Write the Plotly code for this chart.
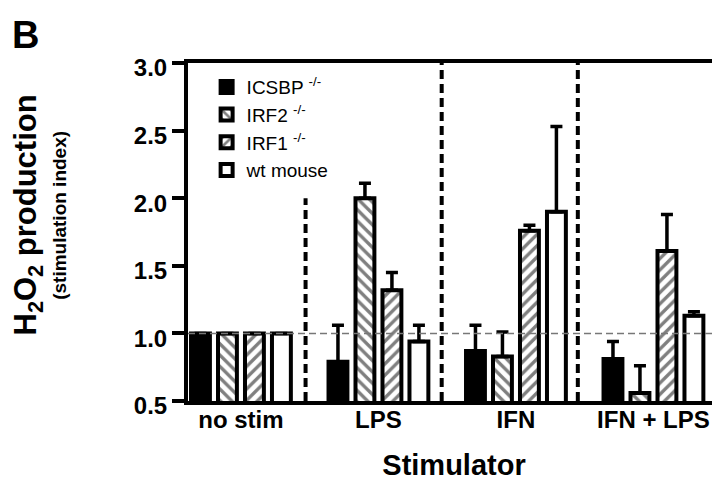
import plotly.graph_objects as go

categories = ["no stim", "LPS", "IFN", "IFN + LPS"]
cat_pos = [0, 1, 2, 3]

series_names = ["ICSBP <sup>-/-</sup>", "IRF2 <sup>-/-</sup>", "IRF1 <sup>-/-</sup>", "wt mouse"]
icsbp = [1.00, 0.79, 0.87, 0.81]
icsbp_err = [0.0, 0.27, 0.19, 0.13]
irf2 = [1.00, 2.00, 0.83, 0.56]
irf2_err = [0.0, 0.11, 0.18, 0.20]
irf1 = [1.00, 1.32, 1.76, 1.61]
irf1_err = [0.0, 0.13, 0.04, 0.27]
wt = [1.00, 0.94, 1.90, 1.13]
wt_err = [0.0, 0.12, 0.63, 0.03]

y_ticks = [0.5, 1.0, 1.5, 2.0, 2.5, 3.0]
y_tick_text = ["0.5", "1.0", "1.5", "2.0", "2.5", "3.0"]

FONT = "Liberation Sans, Arial, sans-serif"

styles = [
    dict(color="black", pattern=None),
    dict(color="white", pattern=dict(shape="\\", size=8, solidity=0.42, fgcolor="black", bgcolor="white")),
    dict(color="white", pattern=dict(shape="/", size=8, solidity=0.42, fgcolor="black", bgcolor="white")),
    dict(color="white", pattern=None),
]

fig = go.Figure()
for name, vals, errs, st in zip(series_names, [icsbp, irf2, irf1, wt],
                                 [icsbp_err, irf2_err, irf1_err, wt_err], styles):
    marker = dict(color=st["color"], line=dict(color="black", width=4))
    if st["pattern"]:
        marker["pattern"] = st["pattern"]
    fig.add_trace(go.Bar(
        x=cat_pos, y=vals, name=name, marker=marker,
        base=0,
        error_y=dict(type="data", symmetric=False, array=errs, arrayminus=[0] * len(errs),
                     thickness=3.5, width=6, color="black"),
    ))

fig.update_layout(
    width=720, height=480,
    margin=dict(l=180, r=8, t=55, b=87, autoexpand=False),
    paper_bgcolor="white", plot_bgcolor="white",
    barmode="group", bargap=0.215, bargroupgap=0.30,
    font=dict(family=FONT, color="black"),
    showlegend=True,
    legend=dict(x=0.035, y=0.985, xanchor="left", yanchor="top",
                bgcolor="rgba(0,0,0,0)", font=dict(size=19, family=FONT),
                tracegroupgap=0),
)

fig.update_xaxes(
    range=[-0.385, 3.484], tickmode="array", tickvals=cat_pos, ticktext=categories,
    showline=True, linecolor="black", linewidth=4, mirror=True,
    ticks="", showgrid=False, zeroline=False, automargin=False,
    tickfont=dict(size=24, family=FONT, weight="bold"),
    ticklabelstandoff=-6,
    title=dict(text="<b>Stimulator</b>", font=dict(size=29, family=FONT), standoff=24),
)
fig.update_yaxes(
    range=[0.5, 3.0], tickmode="array", tickvals=y_ticks, ticktext=y_tick_text,
    showline=True, linecolor="black", linewidth=4, mirror=True,
    ticks="outside", ticklen=12, tickwidth=4, tickcolor="black",
    showgrid=False, zeroline=False, automargin=False,
    tickfont=dict(size=24, family=FONT, weight="bold"),
    ticklabelshift=5,
)

# reference line at 1.0
fig.add_shape(type="line", xref="paper", yref="y", x0=0, x1=1, y0=1.0, y1=1.0,
              line=dict(color="#777777", width=1.5, dash="7px,4px"), layer="above")
# group separators
for xs, ytop in [(0.47, 2.0), (1.46, 3.0), (2.45, 3.0)]:
    fig.add_shape(type="line", xref="x", yref="y", x0=xs, x1=xs, y0=0.5, y1=ytop,
                  line=dict(color="black", width=4, dash="9px,5px"))

fig.add_annotation(text="<b>H<sub>2</sub>O<sub>2</sub> production</b>", textangle=-90,
                   xref="paper", yref="paper", x=-0.30, y=0.55, xanchor="center", yanchor="middle",
                   showarrow=False, font=dict(size=31, family=FONT))
fig.add_annotation(text="<b>(stimulation index)</b>", textangle=-90,
                   xref="paper", yref="paper", x=-0.243, y=0.55, xanchor="center", yanchor="middle",
                   showarrow=False, font=dict(size=19, family=FONT))
fig.add_annotation(text="<b>B</b>", xref="paper", yref="paper", x=-0.334, y=1.15,
                   xanchor="left", yanchor="top", showarrow=False, font=dict(size=38, family=FONT))

fig.write_html("out.html")
